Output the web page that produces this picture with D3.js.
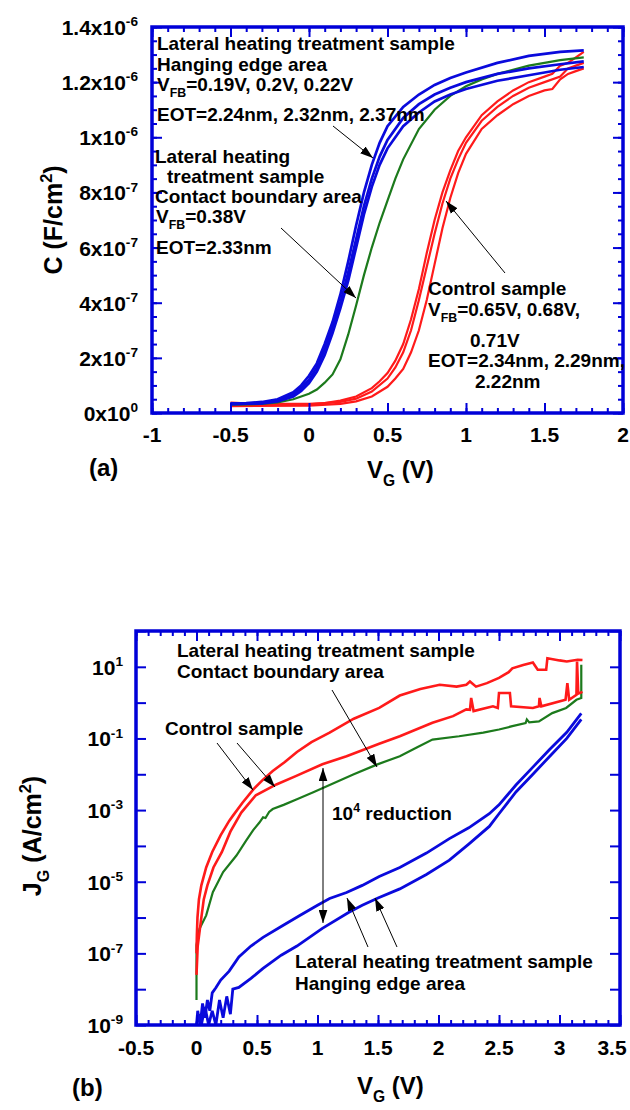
<!DOCTYPE html>
<meta charset="utf-8">
<script src="https://d3js.org/d3.v7.min.js"></script>
<style>
  body { margin: 0; background: #fff; }
  text { font-family: "Liberation Sans", Arial, sans-serif; font-weight: bold; fill: #000; }
</style>
<div id="chart"></div>
<script>
  // ---------- panel (a) : C-V, C in units of 1e-7 F/cm2 ----------
  const cvXTicks = [-1, -0.5, 0, 0.5, 1, 1.5, 2];
  const cvXLabels = ["-1", "-0.5", "0", "0.5", "1", "1.5", "2"];
  const cvYTicks = [0, 2, 4, 6, 8, 10, 12, 14];
  const cvYMant = ["0", "2", "4", "6", "8", "1", "1.2", "1.4"];
  const cvYExp = ["0", "-7", "-7", "-7", "-7", "-6", "-6", "-6"];

  const cvBlue1 = [[-0.5,0.35],[-0.4,0.36],[-0.3,0.4],[-0.2,0.5],[-0.1,0.75],[-0.05,1.0],[0,1.35],[0.05,1.8],[0.1,2.5],[0.15,3.3],[0.2,4.3],[0.25,5.5],[0.3,6.8],[0.35,8.0],[0.4,9.0],[0.45,9.8],[0.5,10.4],[0.6,11.1],[0.7,11.55],[0.8,11.9],[0.9,12.15],[1.0,12.35],[1.2,12.7],[1.4,12.95],[1.6,13.1],[1.75,13.15]];
  const cvBlue2 = [[-0.5,0.33],[-0.4,0.34],[-0.3,0.37],[-0.2,0.45],[-0.1,0.68],[-0.05,0.9],[0,1.2],[0.05,1.65],[0.1,2.3],[0.15,3.1],[0.2,4.0],[0.25,5.1],[0.3,6.3],[0.35,7.5],[0.4,8.5],[0.45,9.3],[0.5,9.9],[0.6,10.7],[0.7,11.2],[0.8,11.55],[0.9,11.8],[1.0,12.0],[1.2,12.3],[1.4,12.5],[1.6,12.65],[1.75,12.75]];
  const cvBlue3 = [[-0.5,0.32],[-0.3,0.35],[-0.2,0.42],[-0.1,0.6],[-0.05,0.8],[0,1.08],[0.05,1.5],[0.1,2.1],[0.15,2.9],[0.2,3.8],[0.25,4.8],[0.3,6.0],[0.35,7.2],[0.4,8.2],[0.45,9.0],[0.5,9.6],[0.6,10.4],[0.7,10.9],[0.8,11.3],[0.9,11.55],[1.0,11.75],[1.2,12.05],[1.4,12.25],[1.6,12.45],[1.75,12.55]];
  const cvGreen = [[-0.5,0.3],[-0.4,0.31],[-0.3,0.33],[-0.2,0.38],[-0.1,0.5],[0,0.7],[0.05,0.85],[0.1,1.1],[0.15,1.4],[0.2,1.95],[0.25,2.85],[0.3,3.9],[0.35,5.0],[0.4,6.0],[0.45,6.9],[0.5,7.7],[0.55,8.5],[0.6,9.2],[0.7,10.3],[0.8,11.0],[0.9,11.5],[1.0,11.85],[1.1,12.1],[1.2,12.3],[1.4,12.6],[1.6,12.8],[1.75,12.9]];
  const cvRed1 = [[-0.5,0.38],[-0.4,0.35],[-0.2,0.33],[0,0.33],[0.1,0.36],[0.2,0.45],[0.3,0.6],[0.4,0.9],[0.45,1.15],[0.5,1.45],[0.55,1.9],[0.6,2.5],[0.65,3.4],[0.7,4.5],[0.75,5.8],[0.8,7.0],[0.85,8.0],[0.9,8.8],[0.95,9.5],[1.0,10.0],[1.1,10.8],[1.2,11.3],[1.3,11.7],[1.4,12.0],[1.5,12.2],[1.55,12.3],[1.6,12.6],[1.65,12.7],[1.7,12.9],[1.75,13.1]];
  const cvRed2 = [[-0.5,0.3],[-0.2,0.3],[0,0.31],[0.2,0.4],[0.3,0.52],[0.4,0.78],[0.5,1.25],[0.55,1.65],[0.6,2.2],[0.65,3.0],[0.7,4.1],[0.75,5.3],[0.8,6.5],[0.85,7.6],[0.9,8.5],[0.95,9.2],[1.0,9.8],[1.1,10.6],[1.2,11.1],[1.3,11.5],[1.4,11.8],[1.5,12.0],[1.6,12.2],[1.65,12.5],[1.7,12.6],[1.75,12.7]];
  const cvRed3 = [[-0.5,0.25],[0,0.27],[0.2,0.33],[0.3,0.42],[0.4,0.6],[0.5,0.95],[0.55,1.25],[0.6,1.6],[0.65,2.2],[0.7,3.0],[0.75,4.1],[0.8,5.4],[0.85,6.7],[0.9,7.8],[0.95,8.7],[1.0,9.4],[1.1,10.3],[1.2,10.8],[1.3,11.2],[1.4,11.5],[1.5,11.7],[1.55,11.75],[1.6,12.1],[1.65,12.3],[1.7,12.4],[1.75,12.5]];

  // ---------- panel (b) : J-V, J in A/cm2 ----------
  const jvXTicks = [-0.5, 0, 0.5, 1, 1.5, 2, 2.5, 3, 3.5];
  const jvXLabels = ["-0.5", "0", "0.5", "1", "1.5", "2", "2.5", "3", "3.5"];
  const jvYTicks = [1e1, 1e-1, 1e-3, 1e-5, 1e-7, 1e-9];
  const jvYExp = ["1", "-1", "-3", "-5", "-7", "-9"];

  const jvRedUp = [[0,1e-7],[0.003,3.2e-7],[0.008,1e-6],[0.02,3.2e-6],[0.04,7.9e-6],[0.08,2.5e-5],[0.13,6.8e-5],[0.2,2e-4],[0.27,5e-4],[0.3,6.9e-4],[0.38,1.6e-3],[0.47,3.8e-3],[0.55,7.1e-3],[0.63,1.23e-2],[0.73,2.2e-2],[0.83,4.2e-2],[0.95,7.9e-2],[1.1,0.145],[1.3,0.355],[1.51,0.71],[1.68,1.58],[1.85,2.4],[2.01,3.16],[2.15,2.8],[2.23,3.16],[2.26,3.9],[2.31,2.8],[2.4,3.5],[2.5,4.9],[2.58,7.1],[2.61,9.1],[2.7,11.2],[2.78,13.2],[2.82,8.3],[2.89,8.3],[2.9,17.4],[3.0,15.1],[3.06,14.1],[3.15,15.8],[3.19,15.5]];
  const jvRedLow = [[0,2.5e-8],[0.01,1.6e-7],[0.04,1e-6],[0.06,3.2e-6],[0.09,7.9e-6],[0.14,2.5e-5],[0.21,6.8e-5],[0.28,2.5e-4],[0.37,8.5e-4],[0.49,2.6e-3],[0.66,5.2e-3],[0.82,8.9e-3],[1.04,1.9e-2],[1.24,3.2e-2],[1.51,7.1e-2],[1.68,0.115],[1.95,0.275],[2.12,0.42],[2.23,0.65],[2.26,0.63],[2.27,1.35],[2.29,0.58],[2.45,0.79],[2.49,0.71],[2.5,1.86],[2.59,1.86],[2.6,0.79],[2.78,0.71],[2.83,0.79],[2.835,1.35],[2.85,0.79],[3.05,1.2],[3.065,3.5],[3.08,1.2],[3.14,1.66],[3.145,14.1],[3.155,1.78],[3.19,2.0]];
  const jvGreen = [[0,5e-9],[0,1.7e-7],[0.025,4.9e-7],[0.08,1.15e-6],[0.135,5.1e-6],[0.22,1.86e-5],[0.33,5.4e-5],[0.41,1.4e-4],[0.47,2.8e-4],[0.52,4.5e-4],[0.55,6.3e-4],[0.57,6e-4],[0.6,8.9e-4],[0.63,1.07e-3],[0.72,1.4e-3],[0.83,2e-3],[0.97,3.2e-3],[1.1,5e-3],[1.3,1e-2],[1.49,1.86e-2],[1.68,3.2e-2],[1.82,5.6e-2],[1.95,9.3e-2],[2.17,0.115],[2.37,0.145],[2.5,0.178],[2.61,0.22],[2.72,0.27],[2.73,0.34],[2.75,0.28],[2.83,0.3],[2.94,0.51],[3.055,0.71],[3.14,1.2],[3.18,1.35],[3.18,11.5]];
  const jvBlueUp = [[0,1e-9],[0.01,2.5e-9],[0.03,1e-9],[0.05,4e-9],[0.07,1.6e-9],[0.09,5e-9],[0.11,2.5e-9],[0.13,7.9e-9],[0.16,1.1e-8],[0.2,1.8e-8],[0.27,3.2e-8],[0.35,7.9e-8],[0.45,1.6e-7],[0.55,2.8e-7],[0.7,5.6e-7],[0.85,1.12e-6],[1.0,2.2e-6],[1.1,3.4e-6],[1.24,5e-6],[1.37,7.9e-6],[1.51,1.4e-5],[1.68,2.5e-5],[1.9,6.3e-5],[2.09,1.6e-4],[2.25,3.2e-4],[2.42,7.9e-4],[2.5,1.4e-3],[2.64,5e-3],[2.78,1.58e-2],[2.92,5e-2],[3.06,0.148],[3.18,0.5]];
  const jvBlueLow = [[0,1e-9],[0.02,2e-9],[0.04,1e-9],[0.07,3.2e-9],[0.1,1e-9],[0.13,2.5e-9],[0.16,1e-9],[0.19,5e-9],[0.22,1.6e-9],[0.25,6.3e-9],[0.28,2e-9],[0.3,1e-8],[0.35,1.12e-8],[0.45,2e-8],[0.55,3.8e-8],[0.7,8.9e-8],[0.83,1.6e-7],[1.04,5e-7],[1.26,1.4e-6],[1.37,2.2e-6],[1.5,3.5e-6],[1.68,6.3e-6],[1.9,1.6e-5],[2.09,4e-5],[2.25,1.12e-4],[2.42,3.5e-4],[2.5,7.9e-4],[2.64,3.2e-3],[2.78,1e-2],[2.92,3.2e-2],[3.06,0.1],[3.18,0.34]];

  const frameColor = "#0000d8";
  const blue = "#0a0adc", red = "#ff1a1a", green = "#1c7a1c";

  const svg = d3.select("#chart").append("svg")
    .attr("width", 630).attr("height", 1110);

  // arrowhead
  svg.append("defs").append("marker")
    .attr("id", "head").attr("markerUnits", "userSpaceOnUse")
    .attr("viewBox", "0 0 12 8").attr("refX", 12).attr("refY", 4)
    .attr("markerWidth", 13).attr("markerHeight", 9).attr("orient", "auto-start-reverse")
    .append("path").attr("d", "M0,0L12,4L0,8Z").attr("fill", "#000");

  // text with sub/superscript parts: "str" or ["str","sub"|"sup"]
  function rich(g, x, y, parts, size, anchor, rot) {
    const t = g.append("text").attr("x", x).attr("y", y)
      .attr("font-size", size).attr("text-anchor", anchor || "start");
    if (rot) t.attr("transform", `rotate(-90,${x},${y})`);
    let off = 0;
    parts.forEach(p => {
      const [s, k] = typeof p === "string" ? [p, ""] : p;
      const target = k === "sub" ? size * 0.33 : k === "sup" ? -size * 0.42 : 0;
      t.append("tspan").attr("dy", target - off)
        .attr("font-size", k ? size * 0.65 : size).text(s);
      off = target;
    });
    return t;
  }

  function arrow(g, x1, y1, x2, y2, both) {
    g.append("line").attr("x1", x1).attr("y1", y1).attr("x2", x2).attr("y2", y2)
      .attr("stroke", "#000").attr("stroke-width", 1)
      .attr("marker-end", "url(#head)")
      .attr("marker-start", both ? "url(#head)" : null);
  }

  function frameAxes(g, x, y, xMajor, xMinor, yMajor, yMinor, big, small) {
    const [x0, x1] = x.range(), [y0, y1] = y.range();
    const put = (axis, tx, ty, vals, len) => g.append("g")
      .attr("transform", `translate(${tx},${ty})`)
      .call(axis.tickValues(vals).tickSize(-len).tickFormat(""))
      .call(a => a.select(".domain").remove())
      .call(a => a.selectAll("line").attr("stroke", frameColor).attr("stroke-width", 2));
    put(d3.axisBottom(x), 0, y0, xMajor, big);
    put(d3.axisBottom(x), 0, y0, xMinor, small);
    put(d3.axisTop(x), 0, y1, xMajor, big);
    put(d3.axisTop(x), 0, y1, xMinor, small);
    put(d3.axisLeft(y), x0, 0, yMajor, big);
    put(d3.axisLeft(y), x0, 0, yMinor, small);
    put(d3.axisRight(y), x1, 0, yMajor, big);
    put(d3.axisRight(y), x1, 0, yMinor, small);
    g.append("rect").attr("x", x0).attr("y", y1).attr("width", x1 - x0).attr("height", y0 - y1)
      .attr("fill", "none").attr("stroke", frameColor).attr("stroke-width", 3.5);
  }

  // ================= panel (a) =================
  const ga = svg.append("g");
  const xa = d3.scaleLinear().domain([-1, 2]).range([152, 623]);
  const ya = d3.scaleLinear().domain([0, 14]).range([413, 27]);

  svg.select("defs").append("clipPath").attr("id", "clipA")
    .append("rect").attr("x", 152).attr("y", 27).attr("width", 471).attr("height", 386);
  const lineA = d3.line().x(d => xa(d[0])).y(d => ya(d[1]));
  const curvesA = [[cvRed3, red, 2.2], [cvRed2, red, 2.2], [cvRed1, red, 2.2], [cvGreen, green, 2.2], [cvBlue3, blue, 2.7], [cvBlue2, blue, 2.7], [cvBlue1, blue, 2.7]];
  ga.append("g").attr("clip-path", "url(#clipA)").selectAll("path").data(curvesA).join("path")
    .attr("d", d => lineA(d[0])).attr("fill", "none")
    .attr("stroke", d => d[1]).attr("stroke-width", d => d[2]);

  frameAxes(ga, xa, ya, cvXTicks, xa.ticks(30), cvYTicks, ya.ticks(28), 10, 5);

  cvXTicks.forEach((v, i) => rich(ga, xa(v), 442, [cvXLabels[i]], 21, "middle"));
  cvYTicks.forEach((v, i) => rich(ga, 138, ya(v) + 8, [cvYMant[i] + "x10", [cvYExp[i], "sup"]], 21, "end"));

  rich(ga, 62, 220, ["C (F/cm", ["2", "sup"], ")"], 25, "middle", true);
  rich(ga, 367, 478, ["V", ["G", "sub"], " (V)"], 24, "start");
  rich(ga, 89, 476, ["(a)"], 24, "start");

  const fs = 19;
  rich(ga, 157, 50, ["Lateral heating treatment sample"], fs);
  rich(ga, 157, 71, ["Hanging edge area"], fs);
  rich(ga, 157, 91, ["V", ["FB", "sub"], "=0.19V, 0.2V, 0.22V"], fs);
  rich(ga, 157, 121, ["EOT=2.24nm, 2.32nm, 2.37nm"], fs);
  rich(ga, 155, 163, ["Lateral heating"], fs);
  rich(ga, 167, 183, ["treatment sample"], fs);
  rich(ga, 155, 203, ["Contact boundary area"], fs);
  rich(ga, 156, 223, ["V", ["FB", "sub"], "=0.38V"], fs);
  rich(ga, 156, 254, ["EOT=2.33nm"], fs);
  rich(ga, 428, 295, ["Control sample"], fs);
  rich(ga, 428, 316, ["V", ["FB", "sub"], "=0.65V, 0.68V,"], fs);
  rich(ga, 470, 347, ["0.71V"], fs);
  rich(ga, 428, 367, ["EOT=2.34nm, 2.29nm,"], fs);
  rich(ga, 475, 388, ["2.22nm"], fs);

  arrow(ga, 333, 126, 373, 158);
  arrow(ga, 281, 228, 356, 298);
  arrow(ga, 505, 273, 446, 201);

  // ================= panel (b) =================
  const gb = svg.append("g");
  const xb = d3.scaleLinear().domain([-0.5, 3.5]).range([136, 620]);
  const yb = d3.scaleLog().domain([1e-9, 1e2]).range([1025, 631]);

  svg.select("defs").append("clipPath").attr("id", "clipB")
    .append("rect").attr("x", 136).attr("y", 631).attr("width", 484).attr("height", 394);
  const lineB = d3.line().x(d => xb(d[0])).y(d => yb(d[1]));
  const curvesB = [[jvBlueLow, blue, 2.8], [jvBlueUp, blue, 2.8], [jvGreen, green, 2.2], [jvRedLow, red, 2.6], [jvRedUp, red, 2.6]];
  gb.append("g").attr("clip-path", "url(#clipB)").selectAll("path").data(curvesB).join("path")
    .attr("d", d => lineB(d[0])).attr("fill", "none")
    .attr("stroke", d => d[1]).attr("stroke-width", d => d[2]);

  const allLog = yb.ticks();
  const decades = allLog.filter(v => Math.abs(Math.log10(v) - Math.round(Math.log10(v))) < 1e-6);
  const minorsLog = allLog.filter(v => !decades.includes(v));
  frameAxes(gb, xb, yb, jvXTicks, xb.ticks(40), decades, minorsLog, 10, 5);

  jvXTicks.forEach((v, i) => rich(gb, Math.min(xb(v), 612), 1055, [jvXLabels[i]], 21, "middle"));
  jvYTicks.forEach((v, i) => rich(gb, 123, yb(v) + 8, ["10", [jvYExp[i], "sup"]], 21, "end"));

  rich(gb, 41, 836, ["J", ["G", "sub"], " (A/cm", ["2", "sup"], ")"], 25, "middle", true);
  rich(gb, 357, 1094, ["V", ["G", "sub"], " (V)"], 24, "start");
  rich(gb, 72, 1096, ["(b)"], 24, "start");

  rich(gb, 177, 657, ["Lateral heating treatment sample"], fs);
  rich(gb, 177, 678, ["Contact boundary area"], fs);
  rich(gb, 165, 735, ["Control sample"], fs);
  rich(gb, 332, 820, ["10", ["4", "sup"], " reduction"], fs);
  rich(gb, 295, 968, ["Lateral heating treatment sample"], fs);
  rich(gb, 295, 990, ["Hanging edge area"], fs);

  arrow(gb, 217, 743, 253, 790);
  arrow(gb, 237, 743, 275, 787);
  arrow(gb, 332, 690, 377, 767);
  arrow(gb, 323, 768, 323, 923, true);
  arrow(gb, 368, 947, 347, 898);
  arrow(gb, 397, 947, 375, 898);
</script>
